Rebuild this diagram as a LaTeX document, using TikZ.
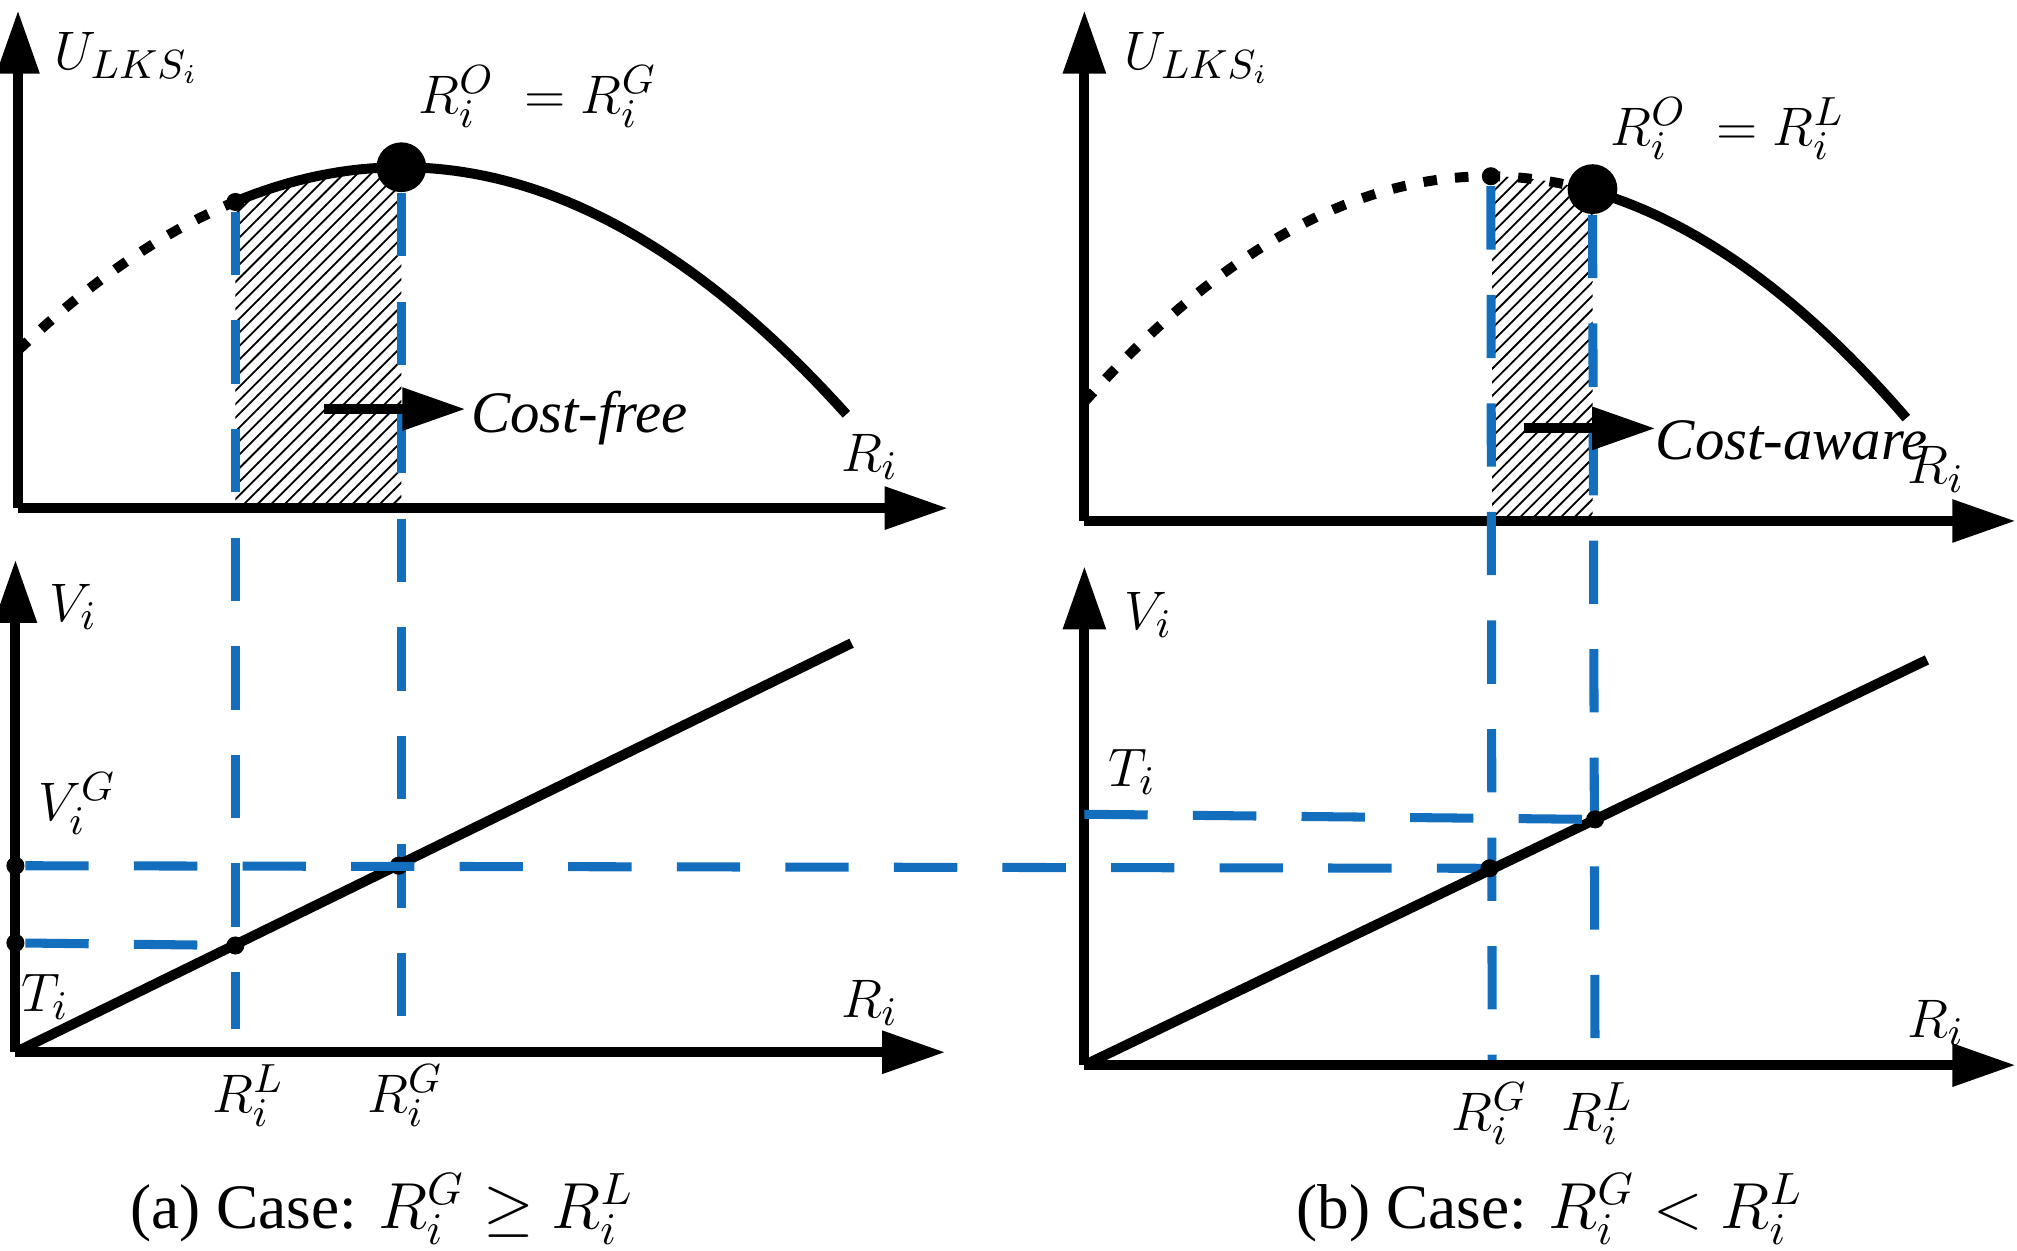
\documentclass[tikz,border=0pt]{standalone}
\usepackage{fontspec}
\setmainfont{Liberation Serif}
\usetikzlibrary{arrows.meta,patterns}
\begin{document}
\begin{tikzpicture}[x=0.01cm,y=-0.01cm,
 ax/.style={line width=2.2pt,-{Triangle[length=14pt,width=9pt]}},
 cur/.style={line width=2.2pt},
 dot/.style={line width=2.2pt,dash pattern=on 3pt off 4pt},
 bl/.style={line width=2pt,color={rgb,255:red,20;green,110;blue,190},dash pattern=on 14pt off 10pt},
 lab/.style={font=\fontsize{13}{15}\selectfont},
 captxt/.style={font=\fontsize{14}{17}\selectfont},
 pt/.style={circle,fill=black,inner sep=0pt,minimum size=4pt}]
\useasboundingbox (0,0) rectangle (1568,972);
% ---- left top
\coordinate (ao1) at (14,395); \coordinate (ay1) at (14,8); \coordinate (ax1) at (737,395);
\fill[pattern=north east lines] plot[domain=183:312,samples=30] (\x,{130+(0.04005*(\x-312))^2}) -- (312,395) -- (183,395) -- cycle;
\draw[dot] plot[domain=14:183,samples=30] (\x,{130+(0.04005*(\x-312))^2});
\draw[cur] plot[domain=183:658,samples=60] (\x,{130+(0.04005*(\x-312))^2});
\node[circle,fill=black,minimum size=11pt,inner sep=0pt] (pk1) at (312,130) {};
\node[pt] (c1) at (183,157) {};
\draw[ax] (ao1) -- (ay1); \draw[ax] (ao1) -- (ax1);
\coordinate (bl1) at (183,800); \coordinate (bg1) at (312,815);
\draw[bl] (c1) -- (bl1); \draw[bl] (pk1) -- (bg1);
\coordinate (af1) at (252,318); \coordinate (at1) at (362,318);
\draw[line width=2.2pt,-{Triangle[length=14pt,width=9pt]}] (af1) -- (at1);
\node[lab,anchor=west,inner sep=1pt] (cf) at (362,325) {\textit{Cost-free}};
\node[lab,anchor=west] (u1) at (30,45) {$U_{LKS_i}$};
\node[lab] (ro1) at (418,75) {$R_i^O\ = R_i^G$};
\node[lab] (r1) at (676,355) {$R_i$};
% ---- left bottom
\coordinate (bo1) at (12,818); \coordinate (by1) at (12,435); \coordinate (bx1) at (735,818);
\draw[ax] (bo1) -- (by1); \draw[ax] (bo1) -- (bx1);
\coordinate (le1) at (662,500);
\draw[cur] (bo1) -- (le1);
\node[pt] (p1) at (12,673) {}; \node[pt] (p2) at (12,733) {};
\node[pt] (p3) at (183,735) {}; \node[pt] (p4) at (310,673) {};
\coordinate (h1) at (1158,675);
\draw[bl] (p1) -- (h1); \draw[bl] (p2) -- (p3);
\node[lab] (v1) at (57,472) {$V_i$};
\node[lab] (vg1) at (60,625) {$V_i^G$};
\node[lab] (t1) at (35,775) {$T_i$};
\node[lab] (rb1) at (676,780) {$R_i$};
\node[lab] (rl1) at (193,852) {$R_i^L$};
\node[lab] (rg1) at (315,852) {$R_i^G$};
\node[captxt] (ca) at (297,940) {(a) Case: $R_i^G \geq R_i^L$};
% ---- right top
\coordinate (ao2) at (843,405); \coordinate (ay2) at (843,8); \coordinate (ax2) at (1567,405);
\fill[pattern=north east lines] plot[domain=1160:1238,samples=20] (\x,{137+(0.04219*(\x-1157))^2}) -- (1238,405) -- (1160,405) -- cycle;
\draw[dot] plot[domain=843:1238,samples=60] (\x,{137+(0.04219*(\x-1157))^2});
\draw[cur] plot[domain=1238:1482,samples=40] (\x,{137+(0.04219*(\x-1157))^2});
\node[circle,fill=black,minimum size=11pt,inner sep=0pt] (pk2) at (1238,147) {};
\node[pt] (c2) at (1159,137) {};
\draw[ax] (ao2) -- (ay2); \draw[ax] (ao2) -- (ax2);
\coordinate (bg2) at (1160,828); \coordinate (bl2) at (1240,828);
\draw[bl] (c2) -- (bg2); \draw[bl] (pk2) -- (bl2);
\coordinate (af2) at (1185,333); \coordinate (at2) at (1287,333);
\draw[line width=2.2pt,-{Triangle[length=14pt,width=9pt]}] (af2) -- (at2);
\node[lab,anchor=west,inner sep=1pt] (ca2) at (1283,342) {\textit{Cost-aware}};
\node[lab,anchor=west] (u2) at (862,45) {$U_{LKS_i}$};
\node[lab] (ro2) at (1343,100) {$R_i^O\ = R_i^L$};
\node[lab] (r2) at (1505,365) {$R_i$};
% ---- right bottom
\coordinate (bo2) at (843,828); \coordinate (by2) at (843,440); \coordinate (bx2) at (1567,828);
\draw[ax] (bo2) -- (by2); \draw[ax] (bo2) -- (bx2);
\coordinate (le2) at (1498,513);
\draw[cur] (bo2) -- (le2);
\node[pt] (q1) at (1240,637) {}; \node[pt] (q2) at (1158,675) {};
\coordinate (h2) at (843,633);
\draw[bl] (h2) -- (q1);
\node[lab] (v2) at (893,478) {$V_i$};
\node[lab] (t2) at (880,600) {$T_i$};
\node[lab] (rb2) at (1505,795) {$R_i$};
\node[lab] (rg2) at (1158,866) {$R_i^G$};
\node[lab] (rl2) at (1242,866) {$R_i^L$};
\node[captxt] (cb) at (1205,940) {(b) Case: $R_i^G < R_i^L$};
\end{tikzpicture}
\end{document}
